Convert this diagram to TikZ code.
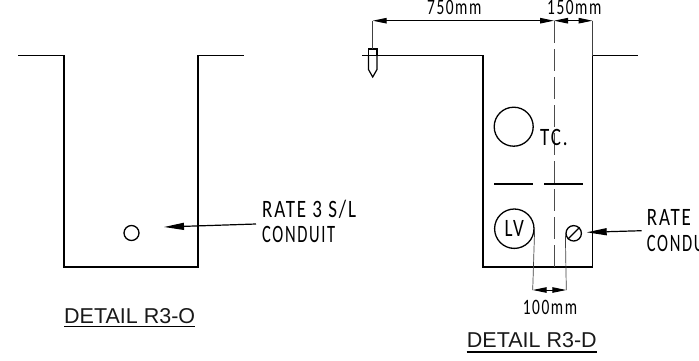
\documentclass[tikz,border=0pt]{standalone}
\usepackage{fontspec}
\setmainfont{Liberation Sans}
\newfontfamily\iso[LetterSpace=10]{Carlito}
\newcommand{\isotext}[1]{\scalebox{0.76}[1]{\iso #1}}
\newcommand{\isotight}[1]{\scalebox{0.66}[1]{\iso #1}}
\newcommand{\isodim}[1]{\scalebox{0.70}[1]{\fontsize{22}{22}\selectfont\iso #1}}
\usetikzlibrary{arrows.meta}
\tikzset{
  wall/.style={line width=1.6pt,line join=miter},
  thinline/.style={line width=0.7pt,draw=black!75},
  centre/.style={line width=0.7pt,draw=black!70,dash pattern=on 22pt off 6pt},
  pipe/.style={circle,draw,line width=1.3pt,inner sep=0pt},
  dimarrow/.style={line width=1pt},
  dimtips/.style={{Triangle[length=14pt,width=5.5pt,fill=black]}-{Triangle[length=14pt,width=5.5pt,fill=black]}},
  leader/.style={line width=1.2pt,-{Triangle[length=20pt,width=7pt,fill=black]}},
  iso/.style={inner sep=0pt,anchor=base west,font=\fontsize{25}{25}\selectfont,text=black},
  title/.style={inner sep=0pt,anchor=base west,font=\fontsize{21.5}{21.5}\selectfont,text=black!90},
  rule/.style={line width=1.5pt}
}
\begin{document}
\begin{tikzpicture}[x=1pt,y=-1pt]
\useasboundingbox (0,0) rectangle (699,360);
\clip (0,0) rectangle (699,360);
% left trench
\draw[wall] (18,55.5) -- (64,55.5) -- (64,267) -- (198,267) -- (198,55.5) -- (244,55.5);
\node[pipe,minimum size=15pt] (conduitL) at (131.5,233) {};
\coordinate (leadL) at (256,224);
\coordinate (tipL) at (164,227);
\draw[leader] (leadL) -- (tipL);
\node[iso] (rateL) at (262,217) {\isotext{RATE 3 S/L}};
\node[iso] (condL) at (262,242.5) {\isotight{CONDUIT}};
\node[title] (titleL) at (64,323) {DETAIL R3-O};
\draw[rule] (titleL.base west)++(0,3.5) -- ++(131,0);
% right trench
\draw[wall] (362,55.5) -- (483,55.5) -- (483,267) -- (592.5,267) -- (592.5,55.5) -- (638,55.5);
\draw[centre] (554,21) -- (554,267);
% marker
\draw[line width=1.2pt] (368.5,49) rectangle (377,55.5);
\draw[line width=1.2pt] (368.5,55.5) -- (368.5,69.5) -- (372.7,77) -- (377,69.5) -- (377,55.5);
% dimensions top
\coordinate (d1) at (372.7,20.7);
\coordinate (d2) at (554,20.7);
\coordinate (d3) at (592.5,20.7);
\draw[thinline] (d1) -- (372.7,49);
\draw[thinline] (d3) -- (592.5,55.5);
\draw[dimarrow,dimtips] (d1) -- (d2);
\draw[dimarrow,dimtips] (d2) -- (d3);
\node[iso] (t750) at (427,14.7) {\isodim{750mm}};
\node[iso] (t150) at (547,14.7) {\isodim{150mm}};
% interior
\node[pipe,minimum size=39pt] (tc) at (513.7,126.7) {};
\node[iso] (tclabel) at (540,145) {\isotext{TC.}};
\draw[line width=2pt] (494.3,183.7) -- (532.7,183.7);
\draw[line width=2pt] (544.3,183.7) -- (582.7,183.7);
\node[pipe,minimum size=39.4pt] (lv) at (514.3,228.7) {};
\node[iso,anchor=center] at (514.3,228.7) {\isotext{LV}};
\node[pipe,minimum size=15.4pt] (conduitR) at (573.7,233.3) {};
\draw[line width=1.3pt] (conduitR.south west) -- (conduitR.north east);
\coordinate (leadR) at (641.7,230.7);
\coordinate (tipR) at (586.7,232.3);
\draw[leader] (leadR) -- (tipR);
\node[iso] (rateR) at (646.7,225) {\isotext{RATE}};
\node[iso] (condR) at (646.7,251) {\isotight{CONDU}};
% bottom dim
\coordinate (d4) at (532.7,290);
\coordinate (d5) at (566.3,290);
\draw[thinline] (lv.east) -- (d4);
\draw[thinline] (conduitR.west) -- (d5);
\draw[dimarrow,dimtips] (d4) -- (d5);
\node[iso] (t100) at (522.7,314) {\isodim{100mm}};
\node[title] (titleR) at (466.7,347.7) {DETAIL R3-D};
\draw[rule] (titleR.base west)++(0,4.5) -- ++(130,0);
\end{tikzpicture}
\end{document}
